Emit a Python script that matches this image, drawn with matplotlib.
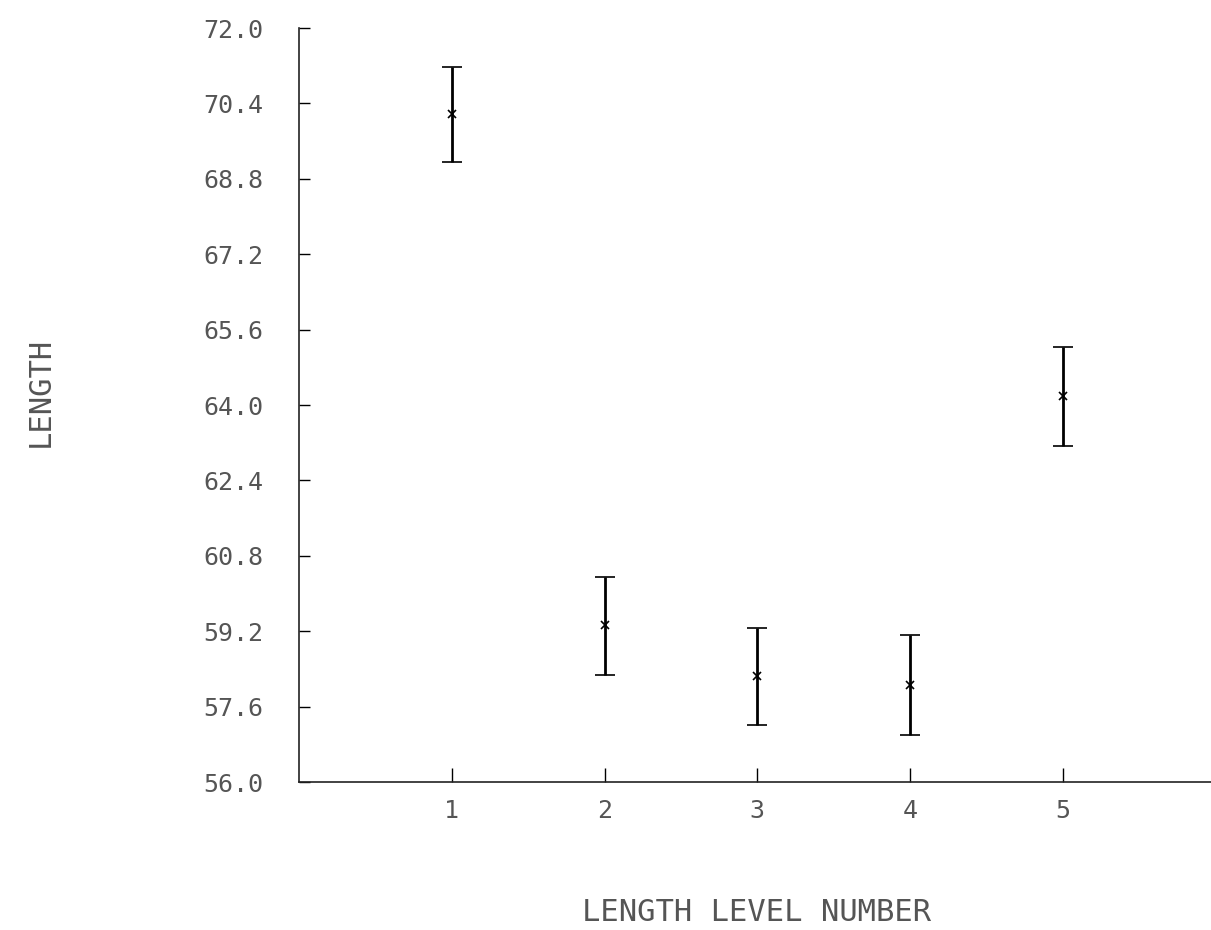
import matplotlib
matplotlib.use('Agg')
import matplotlib.pyplot as plt

# Data
levels = [1, 2, 3, 4, 5]
means = [70.18, 59.33, 58.24, 58.05, 64.20]
err_low = [1.03, 1.07, 1.03, 1.05, 1.08]
err_high = [1.00, 1.02, 1.03, 1.07, 1.03]
y_ticks = [56.0, 57.6, 59.2, 60.8, 62.4, 64.0, 65.6, 67.2, 68.8, 70.4, 72.0]

fig = plt.figure(figsize=(12.11, 9.30), dpi=100)
ax = fig.add_axes([299 / 1211, 148 / 930, 912 / 1211, 754 / 930])

ax.errorbar(levels, means, yerr=[err_low, err_high], fmt='x', color='black',
            ecolor='black', elinewidth=2.0, capsize=7, capthick=1.0,
            markersize=6, markeredgewidth=1.2)

ax.set_xlim(0, 5.97)
ax.set_ylim(56.0, 72.0)
ax.set_xticks(levels)
ax.set_xticklabels([str(v) for v in levels])
ax.set_yticks(y_ticks)
ax.set_yticklabels(['%.1f' % v for v in y_ticks])

for s in ['top', 'right']:
    ax.spines[s].set_visible(False)
for s in ['left', 'bottom']:
    ax.spines[s].set_linewidth(1.2)
    ax.spines[s].set_color('#222222')

ax.tick_params(axis='y', direction='in', length=8, width=1.0, pad=26,
               labelsize=18, labelcolor='#555555')
ax.tick_params(axis='x', direction='in', length=10, width=1.0, pad=12,
               labelsize=18, labelcolor='#555555')
for lab in ax.get_xticklabels() + ax.get_yticklabels():
    lab.set_family('DejaVu Sans Mono')

fig.text(40 / 1211, 1 - 392 / 930, 'LENGTH', rotation=90, ha='center', va='center',
         fontsize=22, family='DejaVu Sans Mono', color='#555555')
fig.text(757 / 1211, 1 - 912 / 930, 'LENGTH LEVEL NUMBER', ha='center', va='center',
         fontsize=22, family='DejaVu Sans Mono', color='#555555')

fig.savefig('out.png', dpi=100)
